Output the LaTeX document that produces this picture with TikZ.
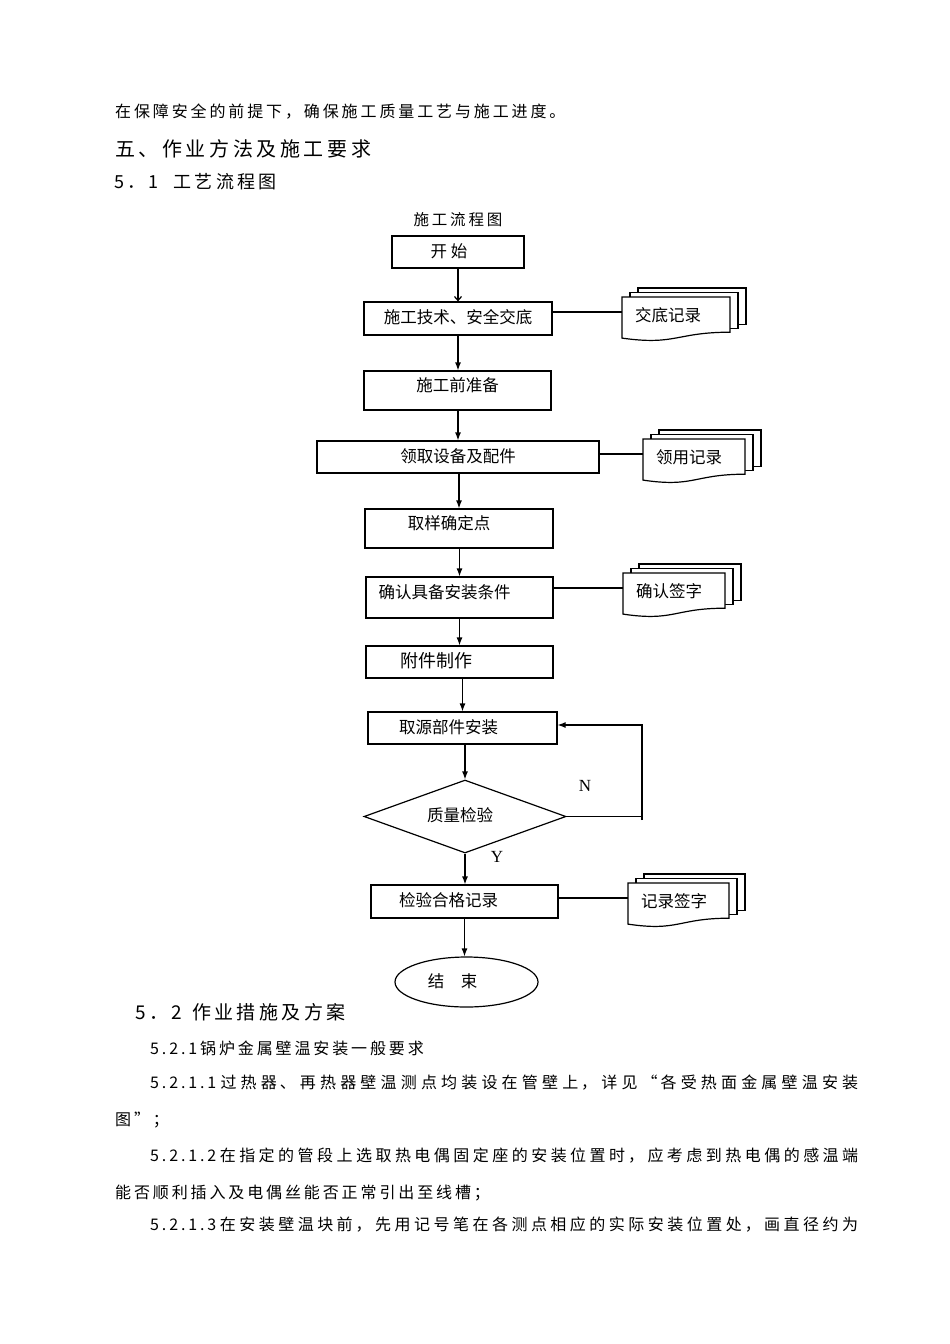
\documentclass[tikz,border=0pt]{standalone}
\usepackage{fontspec}
\setmainfont{Noto Sans CJK SC}
\newfontfamily\bodyfont[LetterSpace=18]{Noto Sans CJK SC}
\newfontfamily\cjk{Noto Sans CJK SC}
\newfontfamily\serifyn{Liberation Serif}
\usetikzlibrary{shapes.geometric,arrows.meta}
\XeTeXlinebreaklocale "zh"
\XeTeXlinebreakskip=0pt plus 1fil
\newcommand\jline[1]{\parbox{708pt}{\parfillskip=0pt\relax #1}}
\newcommand\tshift[1]{\kern#1\relax}
\tikzset{
  conn/.style={line width=1.2pt},
  arr/.style={conn,-{Latex[length=8pt,width=6pt]}},
  procbox/.style={draw,line width=1.2pt,inner sep=0pt,text height=12pt,text depth=2pt,font=\cjk\fontsize{16.5}{16.5}\selectfont},
  raise/.style={text depth=10pt},
  txt/.style={anchor=west,inner sep=0pt},
  docline/.style={draw,fill=white,line width=1.2pt},
  doctext/.style={anchor=west,inner sep=0pt,font=\cjk\fontsize{16.5}{16.5}\selectfont},
  yn/.style={inner sep=0pt,font=\serifyn\fontsize{17}{17}\selectfont}
}
\newcommand\docstack[5]{%
  \foreach \k in {2,1}{%
    \draw[docline] ({#2+8*\k},{#3-4.5*\k}) rectangle ({#2+#4+8*\k},{#3+35.2-4*\k});
  }
  \draw[docline] (#2,#3) -- ({#2+#4},#3) -- ({#2+#4},{#3+35.2})
    .. controls ({#2+0.5*#4},{#3+35.2}) and ({#2+0.5*#4},{#3+48.7}) .. (#2,{#3+41.1}) -- cycle;
  \node[doctext] (#1) at ({#2+13},{#3+18}) {#5};
  \coordinate (#1-in) at (#2,{#3+15});
}
\begin{document}
\begin{tikzpicture}[x=1pt,y=-1pt]
\fill[white] (0,0) rectangle (950,1344);
\useasboundingbox (0,0) rectangle (950,1344);

% header text
\node[txt,font=\bodyfont\fontsize{16}{16}\selectfont] (p1) at (115,112) {在保障安全的前提下，确保施工质量工艺与施工进度。};
\node[txt,font=\bodyfont\fontsize{20}{20}\selectfont] (h5) at (115,149) {五、作业方法及施工要求};
\node[txt,font=\bodyfont\fontsize{18}{18}\selectfont] (h51) at (114,182) {5．1\hspace*{15pt}工艺流程图};
\node[inner sep=0pt,font=\bodyfont\fontsize{15.5}{15.5}\selectfont] (title) at (458,220) {施工流程图};

% flowchart boxes
\node[procbox,minimum width=132,minimum height=32] (start) at (458,252) {开 始\tshift{18pt}};
\node[procbox,minimum width=188,minimum height=33] (jd) at (458,318.5) {施工技术、安全交底};
\node[procbox,raise,minimum width=187,minimum height=39] (zb) at (457.5,390.5) {施工前准备};
\node[procbox,minimum width=282,minimum height=32] (lq) at (458,457) {领取设备及配件};
\node[procbox,raise,minimum width=188,minimum height=39] (qy) at (459,528.5) {取样确定点\tshift{20pt}};
\node[procbox,raise,minimum width=187,minimum height=41] (qr) at (459.5,597.5) {确认具备安装条件\tshift{30pt}};
\node[procbox,minimum width=187,minimum height=32,font=\cjk\fontsize{18}{18}\selectfont] (fj) at (459.5,662) {附件制作\tshift{46pt}};
\node[procbox,minimum width=189,minimum height=32] (qu) at (462.5,728) {取源部件安装\tshift{28pt}};
\node[procbox,diamond,aspect=2.77,minimum width=202,minimum height=73] (zl) at (465,816.5) {质量检验\tshift{10pt}};
\node[procbox,minimum width=187,minimum height=33] (jy) at (464.5,901.5) {检验合格记录\tshift{32pt}};
\node[procbox,ellipse,minimum width=143,minimum height=50] (end) at (466.5,982) {结　束\tshift{28pt}};

% document stacks
\docstack{jdrec}{622}{297}{108}{交底记录}
\docstack{lyrec}{643}{439}{102}{领用记录}
\docstack{qrrec}{623}{573}{102}{确认签字}
\docstack{jlrec}{628}{883}{101}{记录签字}

% connectors
\draw[conn,-{Straight Barb[length=4pt,width=7pt]}] (start.south) -- (start.south |- jd.north);
\draw[arr] (jd.south) -- (jd.south |- zb.north);
\draw[arr] (lq.north |- zb.south) -- (lq.north);
\draw[arr] (qy.north |- lq.south) -- (qy.north);
\draw[arr] (qr.north |- qy.south) -- (qr.north);
\draw[arr] (qr.south) -- (qr.south |- fj.north);
\draw[arr] (qu.north |- fj.south) -- (qu.north);
\draw[arr] (zl.north |- qu.south) -- (zl.north);
\draw[arr] (zl.south) -- (zl.south |- jy.north);
\draw[arr] (jy.south) -- (jy.south |- end.north);

\coordinate (nbot) at (642,820);
\coordinate (ntop) at (642,725);
\draw[conn] (zl.east) -- (zl.east -| nbot);
\draw[arr] (nbot) -- (ntop) -- (ntop -| qu.east);
\node[yn] (nlab) at (585,786) {N};
\node[yn] (ylab) at (497,857) {Y};

\draw[conn] (jdrec-in -| jd.east) -- (jdrec-in);
\draw[conn] (lyrec-in -| lq.east) -- (lyrec-in);
\draw[conn] (qrrec-in -| qr.east) -- (qrrec-in);
\draw[conn] (jlrec-in -| jy.east) -- (jlrec-in);

% body text
\node[txt,font=\bodyfont\fontsize{19}{19}\selectfont] (h52) at (135,1012) {5．2\hspace*{10pt}作业措施及方案};
\node[txt,font=\bodyfont\fontsize{16}{16}\selectfont] (s521) at (150,1048) {5.2.1锅炉金属壁温安装一般要求};
\node[txt,font=\bodyfont\fontsize{16}{16}\selectfont] (s5211) at (150,1083) {\jline{5.2.1.1过热器、再热器壁温测点均装设在管壁上，详见“各受热面金属壁温安装}};
\node[txt,font=\bodyfont\fontsize{16}{16}\selectfont] (s5211b) at (115,1120) {图”；};
\node[txt,font=\bodyfont\fontsize{16}{16}\selectfont] (s5212) at (150,1156) {\jline{5.2.1.2在指定的管段上选取热电偶固定座的安装位置时，应考虑到热电偶的感温端}};
\node[txt,font=\bodyfont\fontsize{16}{16}\selectfont] (s5212b) at (115,1193) {能否顺利插入及电偶丝能否正常引出至线槽；};
\node[txt,font=\bodyfont\fontsize{16}{16}\selectfont] (s5213) at (150,1225) {\jline{5.2.1.3在安装壁温块前，先用记号笔在各测点相应的实际安装位置处，画直径约为}};
\end{tikzpicture}
\end{document}
